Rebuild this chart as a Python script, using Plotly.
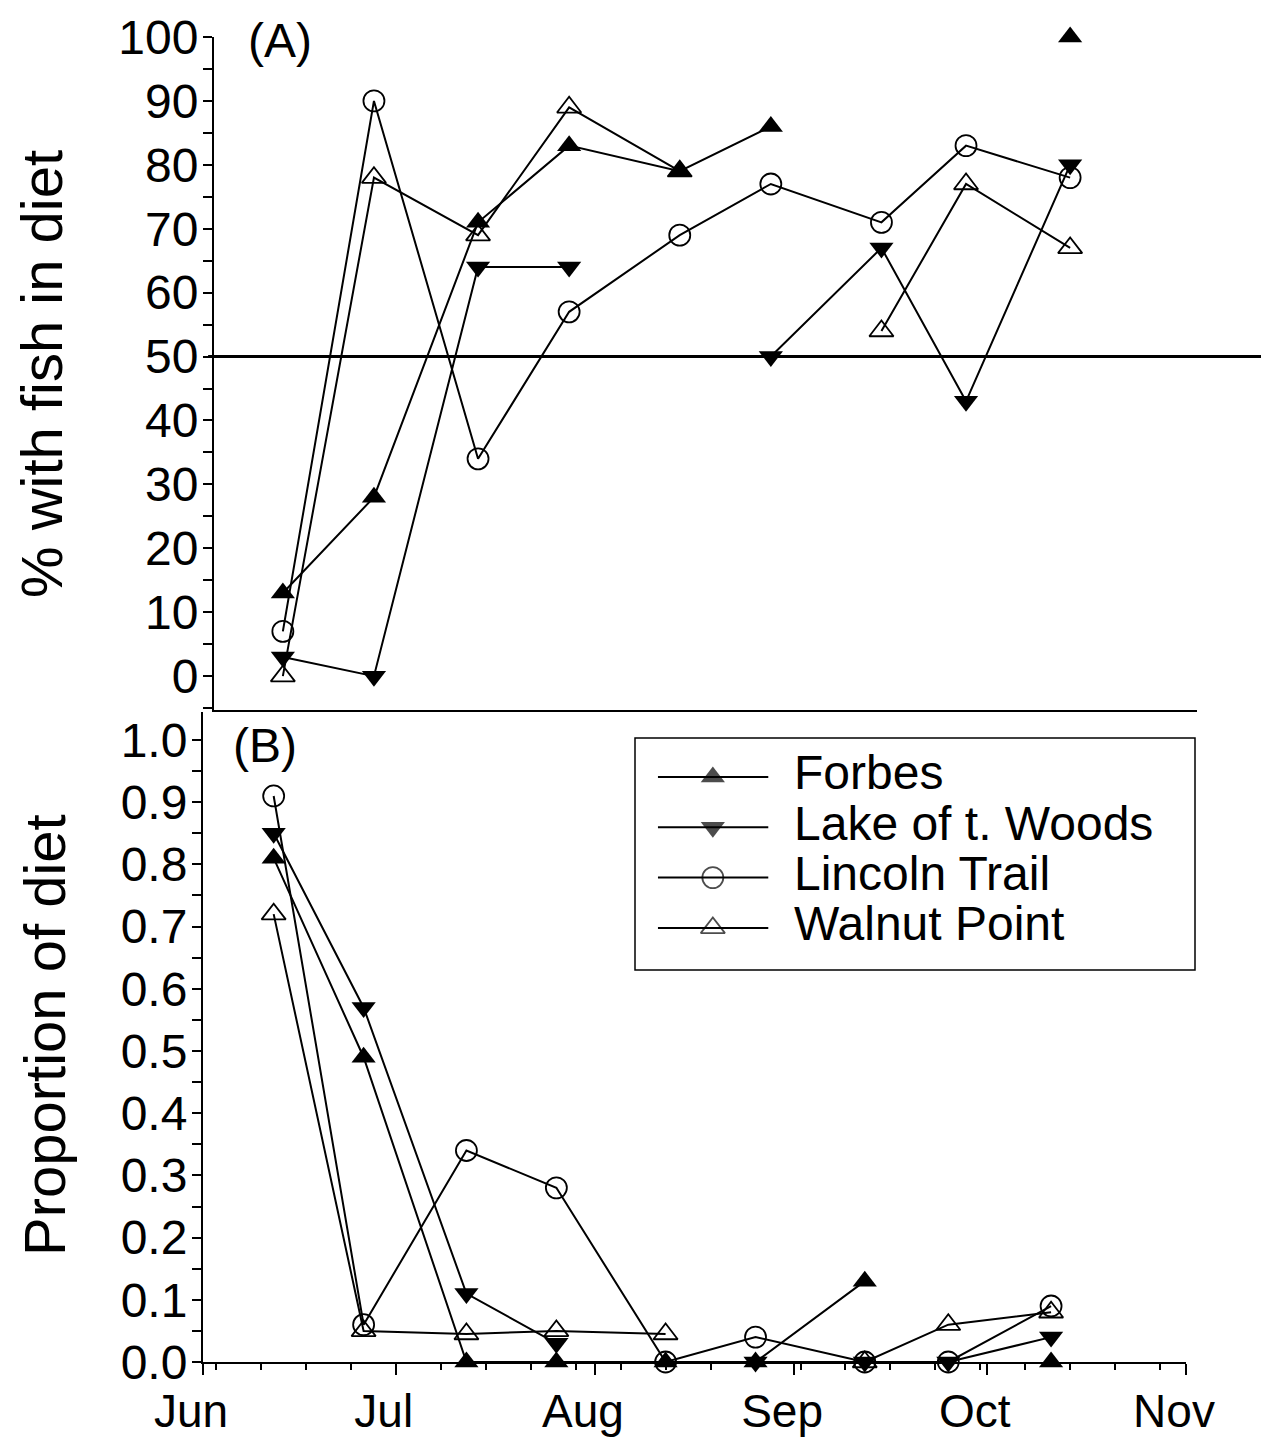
import plotly.graph_objects as go

# Sampling dates (the year only anchors the date axis)
sample_dates = ["2000-06-12", "2000-06-26", "2000-07-12", "2000-07-26", "2000-08-12",
                "2000-08-26", "2000-09-12", "2000-09-25", "2000-10-11"]

lake_names = ["Forbes", "Lake of t. Woods", "Lincoln Trail", "Walnut Point"]

# (A) % of fish with fish in the diet (None = not sampled)
pct_forbes = [13, 28, 71, 83, 79, 86, None, None, 100]
pct_woods = [3, 0, 64, 64, None, 50, 67, 43, 80]
pct_lincoln = [7, 90, 34, 57, 69, 77, 71, 83, 78]
pct_walnut = [0, 78, 69, 89, 79, None, 54, 77, 67]

# (B) proportion of the diet made up of fish
prop_forbes = [0.81, 0.49, 0.0, 0.0, 0.0, 0.0, 0.13, None, 0.0]
prop_woods = [0.85, 0.57, 0.11, 0.03, None, 0.0, 0.0, 0.0, 0.04]
prop_lincoln = [0.91, 0.06, 0.34, 0.28, 0.0, 0.04, 0.0, 0.0, 0.09]
prop_walnut = [0.72, 0.05, 0.045, 0.05, 0.045, None, 0.0, 0.06, 0.08]

threshold_pct = 50

pct_ticks = list(range(0, 101, 10))
prop_ticks = [round(i / 10, 1) for i in range(0, 11)]

W, H = 1261, 1439
FONT = "Liberation Sans, Arial, sans-serif"
TICK_SIZE = 48


def px_x(p):
    return p / W


def px_y(p):
    return 1 - p / H


styles = [
    dict(symbol="triangle-up", size=21, color="black", line=dict(width=0)),
    dict(symbol="triangle-down", size=21, color="black", line=dict(width=0)),
    dict(symbol="circle-open", size=21, color="black", line=dict(width=1.8, color="black")),
    dict(symbol="triangle-up-open", size=21, color="black", line=dict(width=1.8, color="black")),
]

fig = go.Figure()

panel_a = [pct_forbes, pct_woods, pct_lincoln, pct_walnut]
panel_b = [prop_forbes, prop_woods, prop_lincoln, prop_walnut]

for name, vals, st in zip(lake_names, panel_a, styles):
    fig.add_trace(go.Scatter(
        x=sample_dates, y=vals, name=name, mode="lines+markers",
        line=dict(color="black", width=2), marker=st,
        connectgaps=False, cliponaxis=False, showlegend=False,
        xaxis="x", yaxis="y"))

for name, vals, st in zip(lake_names, panel_b, styles):
    fig.add_trace(go.Scatter(
        x=sample_dates, y=vals, name=name, mode="lines+markers",
        line=dict(color="black", width=2), marker=st,
        connectgaps=False, cliponaxis=False, showlegend=False,
        xaxis="x2", yaxis="y2"))

# Key: one row per lake, drawn on its own hidden axes inside the box
for row, (name, st) in enumerate(zip(lake_names, styles)):
    key_marker = dict(st)
    key_marker["size"] = [0, st["size"], 0]
    fig.add_trace(go.Scatter(
        x=[0.041, 0.139, 0.238], y=[row, row, row], mode="lines+markers",
        line=dict(color="black", width=2), marker=key_marker,
        showlegend=False, hoverinfo="skip", cliponaxis=False,
        xaxis="x3", yaxis="y3"))

axis_common = dict(
    showgrid=False, zeroline=False, showline=True, linecolor="black", linewidth=2,
    tickcolor="black", automargin=False,
)

fig.update_layout(
    template="none",
    width=W, height=H,
    margin=dict(l=0, r=0, t=0, b=0, pad=0),
    paper_bgcolor="white", plot_bgcolor="white",
    font=dict(family=FONT, color="black"),
    showlegend=False,
    xaxis=dict(
        **axis_common, domain=[px_x(214), px_x(1197)], anchor="y",
        type="date", range=["2000-06-01 10:00", "2000-10-30 12:00"],
        ticks="", showticklabels=False,
    ),
    yaxis=dict(
        **axis_common, domain=[px_y(710), px_y(37)], anchor="x",
        range=[-5.3, 100], tickmode="array", tickvals=pct_ticks,
        tickfont=dict(family=FONT, size=TICK_SIZE, color="black"),
        ticks="outside", ticklen=9, tickwidth=1.5, ticklabelstandoff=-5,
        minor=dict(dtick=5, tick0=0, ticks="outside", ticklen=9, tickwidth=1.5,
                   tickcolor="black", showgrid=False),
    ),
    xaxis2=dict(
        **axis_common, domain=[px_x(203), px_x(1186)], anchor="y2",
        type="date", range=["2000-06-01", "2000-11-01"],
        tick0="2000-06-01", dtick="M1", tickformat="%b",
        tickfont=dict(family=FONT, size=46, color="black"),
        ticks="outside", ticklen=11, tickwidth=1.5,
        ticklabelshift=-12, ticklabelstandoff=-3,
        minor=dict(dtick=7 * 86400000, tick0="2000-06-03", ticks="outside",
                   ticklen=6, tickwidth=1.5, tickcolor="black", showgrid=False),
    ),
    yaxis2=dict(
        **axis_common, domain=[px_y(1362), px_y(712)], anchor="x2",
        range=[0, 1.045], tickmode="array", tickvals=prop_ticks, tickformat=".1f",
        tickfont=dict(family=FONT, size=TICK_SIZE, color="black"),
        ticks="outside", ticklen=9, tickwidth=1.5, ticklabelstandoff=-5,
        minor=dict(dtick=0.05, tick0=0, ticks="outside", ticklen=9, tickwidth=1.5,
                   tickcolor="black", showgrid=False),
    ),
    xaxis3=dict(domain=[px_x(635), px_x(1195)], range=[0, 1], visible=False,
                anchor="y3", fixedrange=True, automargin=False),
    yaxis3=dict(domain=[px_y(970), px_y(738)], range=[3.837, -0.775], visible=False,
                anchor="x3", fixedrange=True, automargin=False),
)

# 50 % reference line across panel (A)
fig.add_shape(type="line", xref="x domain", yref="y", x0=-0.006, x1=1.07,
              y0=threshold_pct, y1=threshold_pct, line=dict(color="black", width=3))

# Key frame
fig.add_shape(type="rect", xref="x3 domain", yref="y3 domain", x0=0, x1=1, y0=0, y1=1,
              line=dict(color="black", width=1.5), fillcolor="rgba(0,0,0,0)")

annotations = []
for row, name in enumerate(lake_names):
    annotations.append(dict(
        x=0.28, y=row - 0.08, xref="x3", yref="y3", text=name, showarrow=False,
        xanchor="left", yanchor="middle",
        font=dict(family=FONT, size=48, color="black")))

annotations += [
    dict(x=px_x(280), y=px_y(40), xref="paper", yref="paper", text="(A)",
         showarrow=False, xanchor="center", yanchor="middle",
         font=dict(family=FONT, size=48, color="black")),
    dict(x=px_x(265), y=px_y(745), xref="paper", yref="paper", text="(B)",
         showarrow=False, xanchor="center", yanchor="middle",
         font=dict(family=FONT, size=48, color="black")),
    dict(x=px_x(41), y=px_y(374), xref="paper", yref="paper", text="% with fish in diet",
         textangle=-90, showarrow=False, xanchor="center", yanchor="middle",
         font=dict(family=FONT, size=58, color="black")),
    dict(x=px_x(44), y=px_y(1035), xref="paper", yref="paper", text="Proportion of diet",
         textangle=-90, showarrow=False, xanchor="center", yanchor="middle",
         font=dict(family=FONT, size=58, color="black")),
]
fig.update_layout(annotations=annotations)

fig.write_html("out.html")
